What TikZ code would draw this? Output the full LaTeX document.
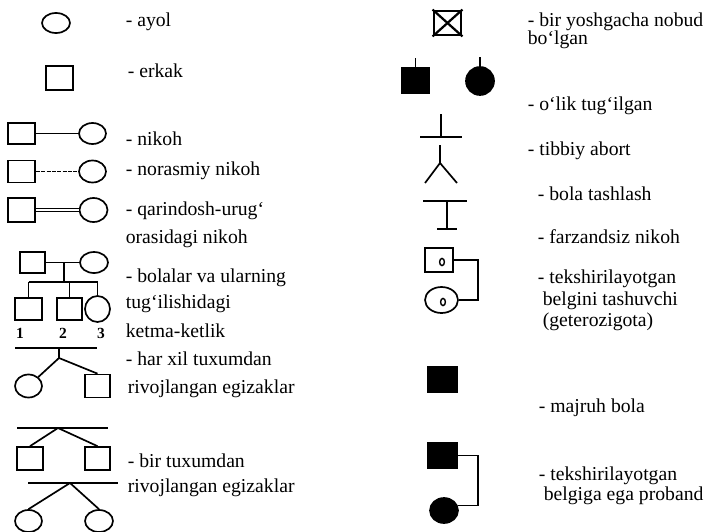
\documentclass[tikz,border=0pt]{standalone}
\usepackage{fontspec}
\setmainfont{Liberation Serif}
\usetikzlibrary{shapes,arrows,positioning,calc}

\begin{document}
\begin{tikzpicture}[x=0.25mm, y=-0.25mm, line width=1.2pt,
    fem/.style={ellipse, draw, inner sep=0pt, minimum width=7mm, minimum height=5.5mm},
    mal/.style={rectangle, draw, inner sep=0pt, minimum width=6.75mm, minimum height=5.75mm},
    dotring/.style={ellipse, draw, line width=1pt, inner sep=0pt, minimum width=1.2mm, minimum height=1.8mm},
    lbl/.style={anchor=base west, inner sep=0pt, font=\fontsize{14}{16}\selectfont},
    num/.style={inner sep=0pt, font=\fontsize{11}{13}\selectfont\bfseries}]

    % Frame
    \fill[white] (0,0) rectangle (715,531);
    \useasboundingbox (0,0) rectangle (715,531);

    % Woman and man
    \node[fem, minimum height=5mm] (ayol) at (56,23) {};
    \node[lbl] (tayol) at (125,27) {- ayol};
    \node[mal, minimum height=6mm] (erkak) at (59.5,78) {};
    \node[lbl] (terkak) at (127,78) {- erkak};

    % Marriage
    \node[mal, minimum height=5.25mm] (nkM) at (21.5,133.5) {};
    \node[fem, minimum width=6.75mm, minimum height=5.25mm] (nkF) at (92.5,133.5) {};
    \draw (nkM) -- (nkF);
    \node[lbl] (tnikoh) at (125,145) {- nikoh};

    % Unofficial marriage
    \node[mal, minimum height=5.5mm] (nrM) at (21.5,171.5) {};
    \node[fem, minimum width=6.75mm, minimum height=5.5mm] (nrF) at (92.5,171.5) {};
    \draw[dash pattern=on 3pt off 0.8pt] (nrM) -- (nrF);
    \node[lbl] (tnorasmiy) at (125,175) {- norasmiy nikoh};

    % Consanguineous marriage
    \node[mal, minimum height=6mm] (qrM) at (21.5,210) {};
    \node[fem, minimum height=6mm] (qrF) at (93.5,210) {};
    \draw[double, double distance=1.8pt, line width=0.8pt] (qrM) -- (qrF);
    \node[lbl] (tqar1) at (125,215) {- qarindosh-urug‘};
    \node[lbl] (tqar2) at (125,243) {orasidagi nikoh};

    % Children and birth order
    \node[mal, minimum width=6.25mm, minimum height=5.25mm] (otA) at (32.5,262.5) {};
    \node[fem, minimum height=5.25mm] (onA) at (94,262.5) {};
    \draw (otA) -- (onA);
    \coordinate (nikA) at ($(otA.east)!0.55!(onA.west)$);
    \coordinate (sibA) at (nikA |- 0,282);
    \node[mal, minimum height=5.5mm] (bl1) at (28.5,309) {};
    \node[mal, minimum width=6.25mm, minimum height=5.5mm] (bl2) at (69.5,309) {};
    \node[fem, minimum width=6.25mm, minimum height=6.5mm] (bl3) at (97.5,309) {};
    \draw (nikA) -- (sibA);
    \draw (bl1.north |- sibA) -- (bl3.north |- sibA);
    \foreach \c in {bl1,bl2,bl3}
        \draw (\c.north |- sibA) -- (\c.north);
    \node[num] (nr1) at (20,333) {1};
    \node[num] (nr2) at (63,333) {2};
    \node[num] (nr3) at (101,333) {3};
    \node[lbl] (tbol1) at (125,282) {- bolalar va ularning};
    \node[lbl] (tbol2) at (125,308) {tug‘ilishidagi};
    \node[lbl] (tbol3) at (125,337) {ketma-ketlik};

    % Dizygotic twins
    \coordinate (hxL) at (15,348);
    \coordinate (hxR) at (97,348);
    \coordinate (hxT) at (59,348);
    \coordinate (hxB) at (59,358);
    \node[fem, minimum width=6.75mm, minimum height=5.75mm] (hxF) at (28.5,386) {};
    \node[mal, minimum width=6.25mm] (hxM) at (97.5,386) {};
    \draw (hxL) -- (hxR);
    \draw (hxT) -- (hxB);
    \draw (hxB) -- (hxF);
    \draw (hxB) -- (hxM.north);
    \node[lbl] (thx1) at (125,365) {- har xil tuxumdan};
    \node[lbl] (thx2) at (127,393) {rivojlangan egizaklar};

    % Monozygotic twins
    \coordinate (btL) at (17,428);
    \coordinate (btR) at (108,428);
    \coordinate (btT) at (58,428);
    \node[mal, minimum width=6.5mm] (btM1) at (30,458.5) {};
    \node[mal, minimum width=6.25mm] (btM2) at (97.5,458.5) {};
    \draw (btL) -- (btR);
    \draw (btM1.north) -- (btT) -- (btM2.north);
    \coordinate (bfL) at (28,483);
    \coordinate (bfR) at (118,483);
    \coordinate (bfT) at (70,483);
    \node[fem, minimum width=6.75mm] (btF1) at (28.5,521) {};
    \node[fem] (btF2) at (99,521) {};
    \draw (bfL) -- (bfR);
    \draw (btF1.north) -- (bfT) -- (btF2.north);
    \node[lbl] (tbt1) at (127,467) {- bir tuxumdan};
    \node[lbl] (tbt2) at (127,492) {rivojlangan egizaklar};

    % Died before one year
    \node[mal, line width=2pt, minimum height=6mm] (olg) at (447.5,23) {};
    \draw[line width=1.6pt] (olg.north west) -- (olg.south east);
    \draw[line width=1.6pt] (olg.north east) -- (olg.south west);
    \node[lbl] (tolg1) at (527,27) {- bir yoshgacha nobud};
    \node[lbl] (tolg2) at (527,45) {bo‘lgan};

    % Stillborn
    \node[mal, fill=black, minimum width=7mm, minimum height=6.5mm] (olM) at (415.5,80.5) {};
    \node[fem, fill=black, minimum height=7mm] (olF) at (480,81) {};
    \coordinate[above=2.25mm of olM.north] (olMt);
    \coordinate[above=2.25mm of olF.north] (olFt);
    \draw (olM.north) -- (olMt);
    \draw (olF.north) -- (olFt);
    \node[lbl] (tolik) at (527,110) {- o‘lik tug‘ilgan};

    % Medical abortion
    \coordinate (abT) at (441,114);
    \coordinate (abB) at (441,137);
    \coordinate (abL) at (420,137);
    \coordinate (abR) at (462,137);
    \draw (abT) -- (abB);
    \draw (abL) -- (abR);
    \node[lbl] (tabort) at (527,155) {- tibbiy abort};

    % Miscarriage
    \coordinate (tsT) at (440,145);
    \coordinate (tsM) at (440,163);
    \coordinate (tsL) at (425,183);
    \coordinate (tsR) at (457,183);
    \draw (tsT) -- (tsM);
    \draw (tsL) -- (tsM) -- (tsR);
    \node[lbl] (ttash) at (537,200) {- bola tashlash};

    % Childless marriage
    \coordinate (fzL) at (423,201);
    \coordinate (fzR) at (467,201);
    \coordinate (fzT) at (447,201);
    \coordinate (fzB) at (447,229);
    \coordinate (fzBL) at (437,229);
    \coordinate (fzBR) at (457,229);
    \draw (fzL) -- (fzR);
    \draw (fzT) -- (fzB);
    \draw (fzBL) -- (fzBR);
    \node[lbl] (tfarz) at (537,243) {- farzandsiz nikoh};

    % Heterozygous carriers
    \node[mal, minimum width=7mm, minimum height=6mm] (gtM) at (439,260) {};
    \node[fem, minimum width=8.25mm, minimum height=6.5mm] (gtF) at (441.5,300) {};
    \node[dotring] (gtMo) at (442,262) {};
    \node[dotring] (gtFo) at (443,302) {};
    \coordinate (gtK) at (478,280);
    \draw (gtM.east) -| (gtK) |- (gtF.east);
    \node[lbl] (tgt1) at (537,283) {- tekshirilayotgan};
    \node[lbl] (tgt2) at (542,305) {belgini tashuvchi};
    \node[lbl] (tgt3) at (542,326) {(geterozigota)};

    % Affected child
    \node[mal, fill=black, minimum width=7.25mm, minimum height=6.25mm] (mjM) at (442.5,379.5) {};
    \node[lbl] (tmaj) at (538,412) {- majruh bola};

    % Proband
    \node[mal, fill=black, minimum width=7.25mm, minimum height=6.25mm] (prM) at (442.5,455.5) {};
    \node[fem, fill=black, minimum height=6.25mm] (prF) at (444,510.5) {};
    \coordinate (prK) at (478,480);
    \draw (prM.east) -| (prK) |- (prF.20);
    \node[lbl] (tpr1) at (538,480) {- tekshirilayotgan};
    \node[lbl] (tpr2) at (543,500) {belgiga ega proband};
\end{tikzpicture}
\end{document}
